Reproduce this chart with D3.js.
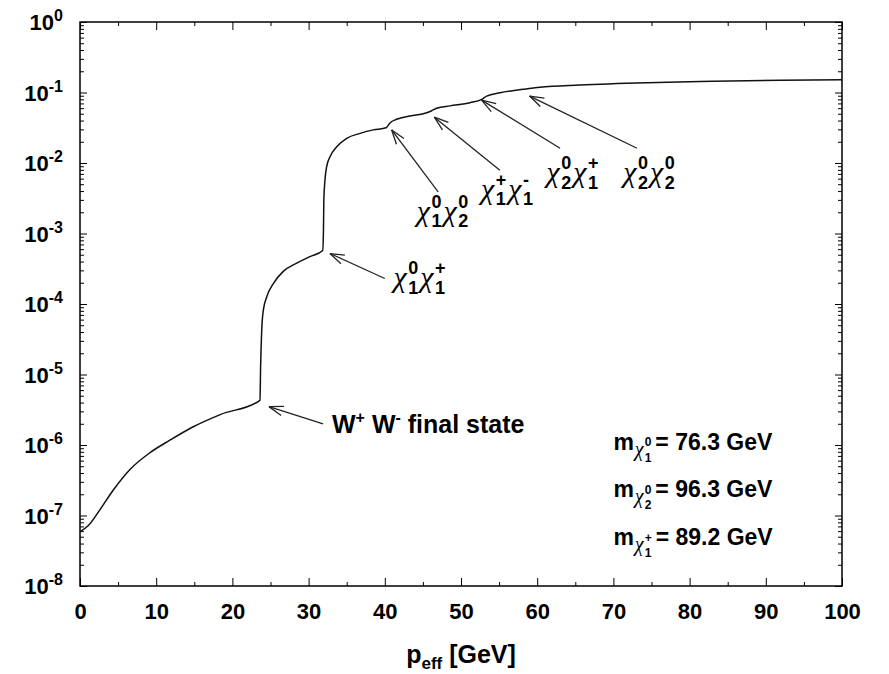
<!DOCTYPE html>
<html>
<head>
<meta charset="utf-8">
<script src="https://cdn.jsdelivr.net/npm/d3@7"></script>
<style>
body { margin: 0; background: #fff; }
text { font-family: "Liberation Sans", Arial, sans-serif; fill: #000; }
.bold { font-weight: bold; }
.chi { font-family: "Liberation Serif", serif; font-style: italic; font-weight: normal; }
</style>
</head>
<body>
<svg id="chart" width="889" height="674"></svg>
<script>
// curve
let pEff = [0, 1.1, 2.6, 4.37, 6.56, 9.2, 11.8, 14.8, 18.4, 23.62, 23.7, 23.85, 24.06, 24.5, 25.37, 26.68, 28.44, 30.18, 31.85,
    31.95, 32.0, 32.15, 32.37, 32.81, 33.69, 35.0, 36.75, 38.5, 40.16, 40.68, 41.56, 43.31, 45.5, 46.15, 46.81, 48.56,
    51.18, 52.72, 53.37, 55.12, 58.18, 60.37, 65.6, 74.4, 83.1, 91.9, 100];
let yVals = [5.9e-8, 7.2e-8, 1.2e-7, 2.3e-7, 4.5e-7, 7.8e-7, 1.17e-6, 1.8e-6, 2.7e-6, 4.3e-6, 1.26e-5, 4.3e-5, 8.2e-5, 1.26e-4, 1.95e-4, 2.9e-4, 3.8e-4, 4.7e-4, 5.75e-4,
    1.12e-3, 3.0e-3, 5.75e-3, 8.9e-3, 1.23e-2, 1.7e-2, 2.24e-2, 2.63e-2, 2.95e-2, 3.16e-2, 3.7e-2, 4.17e-2, 4.65e-2, 5.16e-2, 5.52e-2, 5.97e-2, 6.46e-2,
    7.16e-2, 8.0e-2, 8.9e-2, 9.9e-2, 0.111, 0.119, 0.128, 0.138, 0.144, 0.149, 0.152];

let xTicks = [0, 10, 20, 30, 40, 50, 60, 70, 80, 90, 100];
let xMinor = [5, 15, 25, 35, 45, 55, 65, 75, 85, 95];
let yExponents = [-8, -7, -6, -5, -4, -3, -2, -1, 0];

// arrows: tip on the curve, tail near the label
let arrowTipX = [24.8, 32.8, 40.9, 46.5, 52.7, 59.0];
let arrowTipY = [3.5e-6, 5.2e-4, 2.94e-2, 4.47e-2, 7.8e-2, 8.9e-2];
let arrowTailX = [31.9, 40.0, 47.0, 55.1, 63.0, 73.1];
let arrowTailY = [2.0e-6, 2.3e-4, 3.9e-3, 7.9e-3, 1.62e-2, 1.62e-2];

// chi pair labels (sub, sup) and their centre / baseline
let chiPairs = [
    [['1', '0'], ['1', '+']],
    [['1', '0'], ['2', '0']],
    [['1', '+'], ['1', '-']],
    [['2', '0'], ['1', '+']],
    [['2', '0'], ['2', '0']]
];
let chiLabelX = [44.55, 47.57, 56.04, 64.63, 74.67];
let chiLabelY = [1.74e-4, 1.52e-3, 3.1e-3, 5.37e-3, 5.37e-3];

let wwLabelX = 33.07, wwLabelY = 1.48e-6;

let massNames = [['1', '0'], ['2', '0'], ['1', '+']];
let massValues = ['76.3', '96.3', '89.2'];
let massLabelX = 70;
let massLabelY = [8.5e-7, 1.82e-7, 3.8e-8];

let margin = {left: 80, top: 22, right: 47, bottom: 88};
let width = 889, height = 674;

let svg = d3.select('#chart');

let x = d3.scaleLinear().domain([0, 100]).range([margin.left, width - margin.right]);
let y = d3.scaleLog().domain([1e-8, 1]).range([height - margin.bottom, margin.top]);

let yMajor = yExponents.map(e => Math.pow(10, e));
let yMinor = [];
for (let e of yExponents.slice(0, -1)) {
    for (let m = 2; m <= 9; m++) yMinor.push(m * Math.pow(10, e));
}

function tickAxis(axis, tr) {
    let g = svg.append('g').attr('transform', tr).call(axis);
    g.select('.domain').remove();
    g.selectAll('line').attr('stroke', '#000').attr('stroke-width', 1);
    return g;
}

let x0 = x.range()[0], x1 = x.range()[1], y0 = y.range()[0], y1 = y.range()[1];

// x axis bottom with labels
let xb = tickAxis(d3.axisBottom(x).tickValues(xTicks).tickSize(-8).tickSizeOuter(0).tickPadding(17).tickFormat(d3.format('d')), 'translate(0,' + y0 + ')');
xb.selectAll('text').attr('class', 'bold').style('font-size', '22px').attr('font-family', null);
tickAxis(d3.axisBottom(x).tickValues(xMinor).tickSize(-4).tickSizeOuter(0).tickFormat(''), 'translate(0,' + y0 + ')');
tickAxis(d3.axisTop(x).tickValues(xTicks).tickSize(-8).tickSizeOuter(0).tickFormat(''), 'translate(0,' + y1 + ')');
tickAxis(d3.axisTop(x).tickValues(xMinor).tickSize(-4).tickSizeOuter(0).tickFormat(''), 'translate(0,' + y1 + ')');

// y axes
tickAxis(d3.axisLeft(y).tickValues(yMajor).tickSize(-7).tickSizeOuter(0).tickFormat(''), 'translate(' + x0 + ',0)');
tickAxis(d3.axisLeft(y).tickValues(yMinor).tickSize(-4).tickSizeOuter(0).tickFormat(''), 'translate(' + x0 + ',0)');
tickAxis(d3.axisRight(y).tickValues(yMajor).tickSize(-7).tickSizeOuter(0).tickFormat(''), 'translate(' + x1 + ',0)');
tickAxis(d3.axisRight(y).tickValues(yMinor).tickSize(-4).tickSizeOuter(0).tickFormat(''), 'translate(' + x1 + ',0)');

// y labels 10^n
let yl = svg.append('g').selectAll('text')
    .data(yExponents)
    .enter()
    .append('text')
    .attr('class', 'bold')
    .attr('text-anchor', 'end')
    .attr('x', x0 - 17)
    .attr('y', d => y(Math.pow(10, d)) + 8)
    .style('font-size', '22px');
yl.append('tspan').text('10');
yl.append('tspan').attr('dy', -9).style('font-size', '16px').text(d => d);

// frame
svg.append('rect')
    .attr('x', x0).attr('y', y1)
    .attr('width', x1 - x0).attr('height', y0 - y1)
    .attr('fill', 'none').attr('stroke', '#000').attr('stroke-width', 1.5);

// x title
let xt = svg.append('text')
    .attr('class', 'bold')
    .attr('text-anchor', 'middle')
    .attr('x', (x0 + x1) / 2)
    .attr('y', 663)
    .style('font-size', '25px');
xt.append('tspan').text('p');
xt.append('tspan').attr('dy', 6).style('font-size', '17px').text('eff');
xt.append('tspan').attr('dy', -6).text(' [GeV]');

// curve
let pts = pEff.map((p, i) => [p, yVals[i]]);
let line = d3.line()
    .x(d => x(d[0]))
    .y(d => y(d[1]))
    .curve(d3.curveMonotoneX);
svg.append('path')
    .datum(pts)
    .attr('d', line)
    .attr('fill', 'none')
    .attr('stroke', '#111')
    .attr('stroke-width', 1.5);

// arrows
let ag = svg.append('g').attr('stroke', '#222').attr('stroke-width', 1.3).attr('fill', 'none');
for (let i = 0; i < arrowTipX.length; i++) {
    let tx = x(arrowTipX[i]), ty = y(arrowTipY[i]);
    let sx = x(arrowTailX[i]), sy = y(arrowTailY[i]);
    ag.append('line').attr('x1', sx).attr('y1', sy).attr('x2', tx).attr('y2', ty);
    let ang = Math.atan2(sy - ty, sx - tx);
    let len = 15, spread = 0.32;
    for (let s of [-1, 1]) {
        ag.append('line')
            .attr('x1', tx).attr('y1', ty)
            .attr('x2', tx + len * Math.cos(ang + s * spread))
            .attr('y2', ty + len * Math.sin(ang + s * spread));
    }
}

// chi glyph with stacked sub/superscript as tspans of one text, returns right edge
function addChi(t, xs, base, size, sub, sup, subSize, supOff, subOff) {
    let chi = t.append('tspan').attr('class', 'chi')
        .attr('x', xs).attr('y', base)
        .style('font-size', size + 'px').text('χ');
    let w = chi.node().getComputedTextLength();
    let sx = xs + w + size * 0.05;
    let t2 = t.append('tspan').attr('class', 'bold').attr('x', sx).attr('y', base - supOff)
        .style('font-size', subSize + 'px').text(sup);
    let t1 = t.append('tspan').attr('class', 'bold').attr('x', sx).attr('y', base + subOff)
        .style('font-size', subSize + 'px').text(sub);
    return sx + Math.max(t1.node().getComputedTextLength(), t2.node().getComputedTextLength());
}

for (let i = 0; i < chiPairs.length; i++) {
    let g = svg.append('g');
    let t = g.append('text');
    let xe = addChi(t, 0, 0, 30, chiPairs[i][0][0], chiPairs[i][0][1], 18, 12.6, 6.6);
    let xe2 = addChi(t, xe + 2, 0, 30, chiPairs[i][1][0], chiPairs[i][1][1], 18, 12.6, 6.6);
    g.attr('transform', 'translate(' + (x(chiLabelX[i]) - xe2 / 2) + ',' + y(chiLabelY[i]) + ')');
}

// W+ W- final state
let ww = svg.append('text')
    .attr('class', 'bold')
    .attr('x', x(wwLabelX))
    .attr('y', y(wwLabelY))
    .style('font-size', '25px');
ww.append('tspan').text('W');
ww.append('tspan').attr('dy', -10).style('font-size', '16px').text('+');
ww.append('tspan').attr('dy', 10).text(' W');
ww.append('tspan').attr('dy', -10).style('font-size', '16px').text('-');
ww.append('tspan').attr('dy', 10).text(' final state');

// mass labels
for (let i = 0; i < massValues.length; i++) {
    let g = svg.append('g').attr('transform', 'translate(' + x(massLabelX) + ',' + y(massLabelY[i]) + ')');
    let t = g.append('text').attr('class', 'bold').style('font-size', '23px');
    let m = t.append('tspan').attr('x', 0).attr('y', 0).text('m');
    let mw = m.node().getComputedTextLength();
    let xe = addChi(t, mw + 1, 6, 20, massNames[i][0], massNames[i][1], 12, 9.5, 6);
    t.append('tspan').attr('x', xe + 4).attr('y', 0)
        .text('= ' + massValues[i] + ' GeV');
}
</script>
</body>
</html>
